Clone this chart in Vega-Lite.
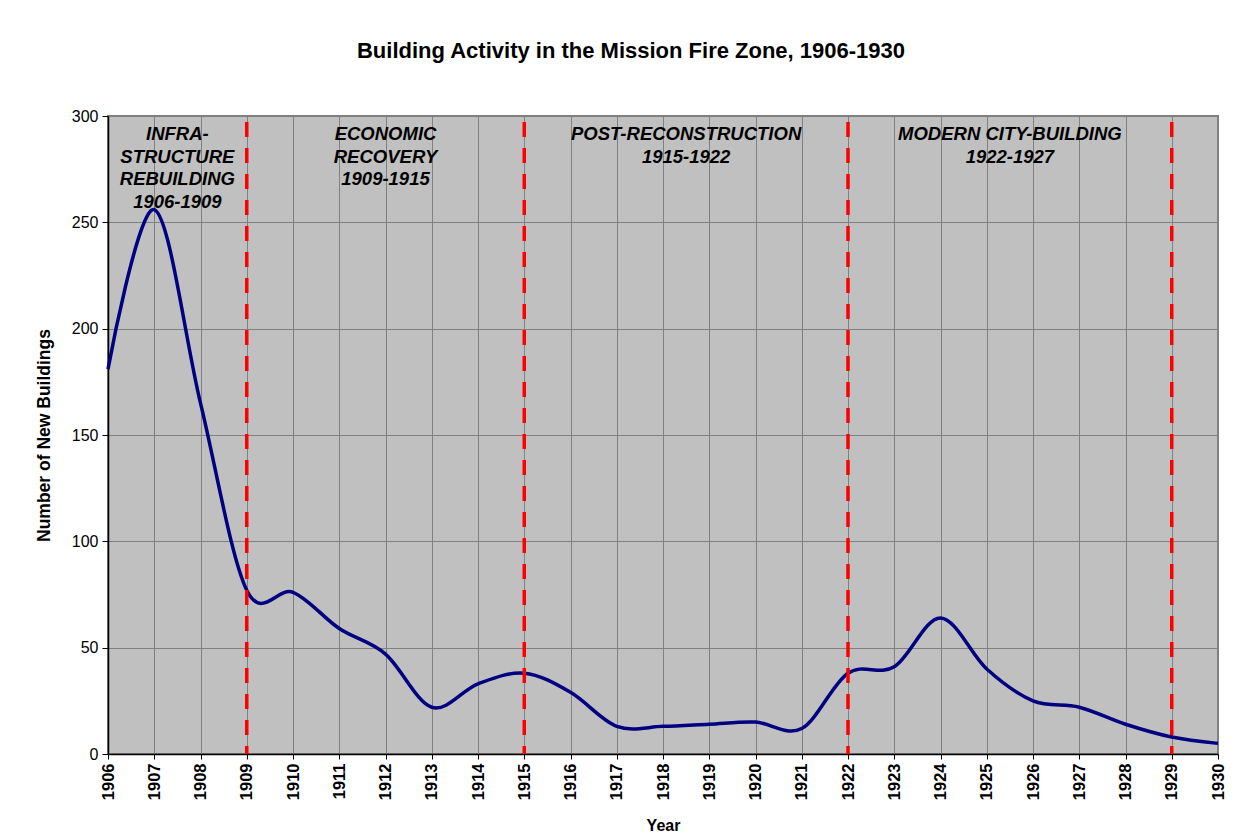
{
  "$schema": "https://vega.github.io/schema/vega-lite/v6.json",
  "width": 1110,
  "height": 638,
  "autosize": "none",
  "padding": {"left": 108, "top": 116, "right": 36, "bottom": 84},
  "background": "white",
  "title": {
    "text": "Building Activity in the Mission Fire Zone, 1906-1930",
    "font": "Liberation Sans",
    "fontSize": 22,
    "fontWeight": "bold",
    "color": "black",
    "offset": 45,
    "dx": -32
  },
  "config": {
    "font": "Liberation Sans",
    "view": {"fill": "#C0C0C0", "stroke": "#808080", "strokeWidth": 2}
  },
  "datasets": {
    "buildings": [
      {"year": 1906, "count": 181},
      {"year": 1907, "count": 256},
      {"year": 1908, "count": 165},
      {"year": 1909, "count": 77},
      {"year": 1910, "count": 76},
      {"year": 1911, "count": 59},
      {"year": 1912, "count": 47},
      {"year": 1913, "count": 22},
      {"year": 1914, "count": 33},
      {"year": 1915, "count": 38},
      {"year": 1916, "count": 29},
      {"year": 1917, "count": 13},
      {"year": 1918, "count": 13},
      {"year": 1919, "count": 14},
      {"year": 1920, "count": 15},
      {"year": 1921, "count": 12},
      {"year": 1922, "count": 38},
      {"year": 1923, "count": 41},
      {"year": 1924, "count": 64},
      {"year": 1925, "count": 40},
      {"year": 1926, "count": 25},
      {"year": 1927, "count": 22},
      {"year": 1928, "count": 14},
      {"year": 1929, "count": 8},
      {"year": 1930, "count": 5}
    ],
    "dividers": [
      {"year": 1909},
      {"year": 1915},
      {"year": 1922},
      {"year": 1929}
    ],
    "periods": [
      {"year": 1907.5, "label": "INFRA-\nSTRUCTURE\nREBUILDING\n1906-1909"},
      {"year": 1912, "label": "ECONOMIC\nRECOVERY\n1909-1915"},
      {"year": 1918.5, "label": "POST-RECONSTRUCTION\n1915-1922"},
      {"year": 1925.5, "label": "MODERN CITY-BUILDING\n1922-1927"}
    ]
  },
  "layer": [
    {
      "data": {"name": "buildings"},
      "mark": {"type": "line", "interpolate": "cardinal", "color": "#000080", "strokeWidth": 3.5},
      "encoding": {
        "x": {
          "field": "year",
          "type": "quantitative",
          "scale": {"domain": [1906, 1930], "nice": false, "zero": false},
          "axis": {
            "values": [1906, 1907, 1908, 1909, 1910, 1911, 1912, 1913, 1914, 1915, 1916, 1917, 1918, 1919, 1920, 1921, 1922, 1923, 1924, 1925, 1926, 1927, 1928, 1929, 1930],
            "format": "d",
            "labelAngle": -90,
            "labelFontSize": 16.5,
            "labelFontWeight": "bold",
            "labelColor": "black",
            "labelPadding": 4,
            "labelFlush": false,
            "labelOverlap": false,
            "grid": true,
            "gridColor": "#808080",
            "gridWidth": 1,
            "gridOpacity": 1,
            "domainColor": "black",
            "domainWidth": 1.5,
            "tickColor": "black",
            "tickSize": 5,
            "title": "Year",
            "titleFontSize": 16,
            "titleFontWeight": "bold",
            "titleColor": "black",
            "titlePadding": 18
          }
        },
        "y": {
          "field": "count",
          "type": "quantitative",
          "scale": {"domain": [0, 300], "nice": false},
          "axis": {
            "values": [0, 50, 100, 150, 200, 250, 300],
            "labelFontSize": 16,
            "labelColor": "black",
            "labelPadding": 4,
            "grid": true,
            "gridColor": "#808080",
            "gridWidth": 1,
            "gridOpacity": 1,
            "domainColor": "black",
            "domainWidth": 1.5,
            "tickColor": "black",
            "tickSize": 6,
            "title": "Number of New Buildings",
            "titleFontSize": 17.5,
            "titleFontWeight": "bold",
            "titleColor": "black",
            "titlePadding": 18
          }
        }
      }
    },
    {
      "data": {"name": "dividers"},
      "mark": {"type": "rule", "color": "#FF0000", "strokeWidth": 3.5, "strokeDash": [15, 11], "strokeDashOffset": 20},
      "encoding": {
        "x": {"field": "year", "type": "quantitative"}
      }
    },
    {
      "data": {"name": "periods"},
      "mark": {
        "type": "text",
        "fontSize": 18.5,
        "fontWeight": "bold",
        "fontStyle": "italic",
        "color": "black",
        "align": "center",
        "baseline": "top",
        "lineBreak": "\n",
        "lineHeight": 22.5,
        "dy": 9
      },
      "encoding": {
        "x": {"field": "year", "type": "quantitative"},
        "y": {"datum": 300},
        "text": {"field": "label"}
      }
    }
  ]
}
